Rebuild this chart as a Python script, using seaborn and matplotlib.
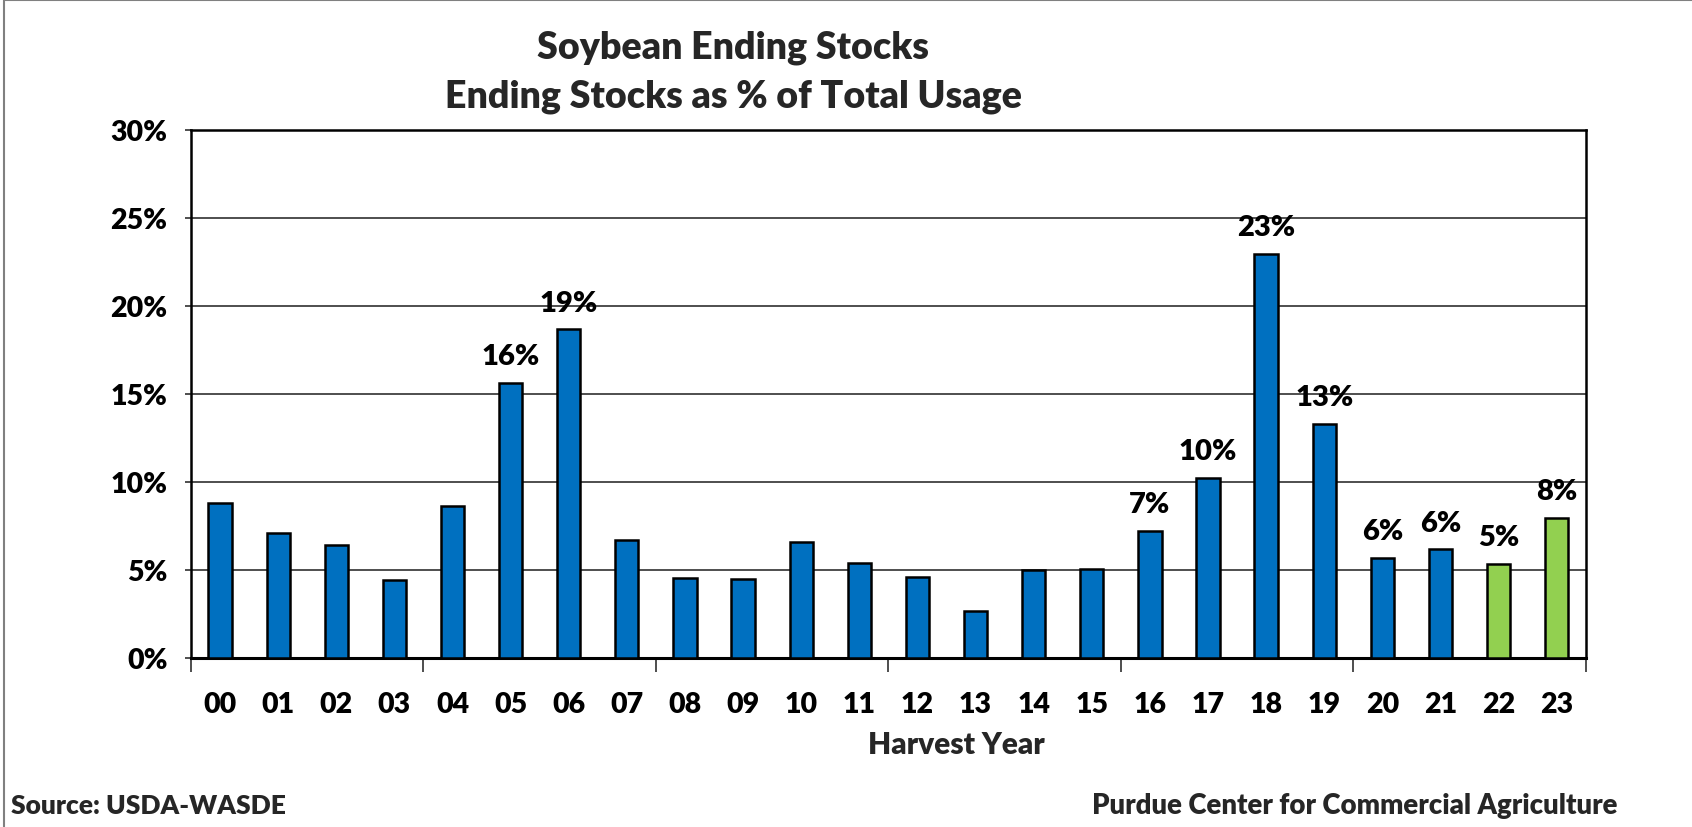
import matplotlib
matplotlib.use("Agg")
import matplotlib.pyplot as plt
from matplotlib.patches import Rectangle
from matplotlib.ticker import FixedLocator, FuncFormatter, NullFormatter
import pandas as pd
import seaborn as sns

# Harvest years (two-digit) and ending stocks as a share of total usage, in percent
years = ["00", "01", "02", "03", "04", "05", "06", "07", "08", "09", "10", "11",
         "12", "13", "14", "15", "16", "17", "18", "19", "20", "21", "22", "23"]
stocks_pct = [8.80, 7.09, 6.41, 4.43, 8.59, 15.62, 18.64, 6.65, 4.54, 4.48, 6.55, 5.35,
              4.56, 2.66, 4.95, 5.03, 7.18, 10.19, 22.92, 13.27, 5.66, 6.14, 5.30, 7.95]
status = ["Estimate"] * 22 + ["Projection"] * 2
labelled_years = ["05", "06", "16", "17", "18", "19", "20", "21", "22", "23"]
y_ticks = [0, 5, 10, 15, 20, 25, 30]

palette = {"Estimate": "#0070C0", "Projection": "#92D050"}

df = pd.DataFrame({"year": years, "pct": stocks_pct, "status": status})

sns.set_theme(style="white")
plt.rcParams["font.family"] = ["Lato", "DejaVu Sans"]
plt.rcParams["font.weight"] = "bold"
W = "heavy"

fig = plt.figure(figsize=(16.92, 8.28), dpi=100)
ax = fig.add_axes([0.1129, 0.2047, 0.9372 - 0.1129, 0.8423 - 0.2047])

sns.barplot(data=df, x="year", y="pct", hue="status", palette=palette,
            saturation=1, dodge=False, width=0.4, edgecolor="black", linewidth=1.8,
            legend=False, ax=ax, zorder=3)

ax.set_xlim(-0.5, len(years) - 0.5)
ax.set_ylim(0, 30)

# horizontal gridlines
ax.yaxis.set_major_locator(FixedLocator(y_ticks))
ax.yaxis.set_major_formatter(FuncFormatter(lambda v, p: f"{v:.0f}%"))
ax.grid(axis="y", color="#303030", linewidth=1.2, zorder=0)
ax.grid(axis="x", visible=False)
ax.set_axisbelow(True)

for side in ["left", "right", "top", "bottom"]:
    ax.spines[side].set_visible(True)
    ax.spines[side].set_color("black")
    ax.spines[side].set_linewidth(1.8)
ax.spines["bottom"].set_linewidth(2.2)

ax.tick_params(axis="y", which="major", direction="out", length=4, width=1.2,
               color="#303030", left=True, pad=13, labelsize=20.5)
ax.tick_params(axis="x", which="major", length=0, pad=24, labelsize=20.5)

# category-boundary tick marks every four years
ax.xaxis.set_minor_locator(FixedLocator([i - 0.5 for i in range(0, len(years) + 1, 4)]))
ax.xaxis.set_minor_formatter(NullFormatter())
ax.tick_params(axis="x", which="minor", direction="out", length=10, width=1.2,
               color="#303030", bottom=True)

for lbl in ax.get_xticklabels() + ax.get_yticklabels():
    lbl.set_fontweight(W)
    lbl.set_color("black")

ax.set_xlabel("")
ax.set_ylabel("")

# value labels above selected bars
for i, (yr, v) in enumerate(zip(years, stocks_pct)):
    if yr in labelled_years:
        ax.annotate(f"{v:.0f}%", xy=(i, v), xytext=(0, 10), textcoords="offset points",
                    ha="center", va="bottom", fontsize=21, fontweight=W,
                    color="black", zorder=5)

fig.text(733 / 1692, 1 - 48 / 828, "Soybean Ending Stocks", ha="center", va="center",
         fontsize=27, fontweight=W)
fig.text(733 / 1692, 1 - 97 / 828, "Ending Stocks as % of Total Usage", ha="center",
         va="center", fontsize=27, fontweight=W)
fig.text(956 / 1692, 1 - 745 / 828, "Harvest Year", ha="center", va="center",
         fontsize=21.5, fontweight=W)
fig.text(11 / 1692, 1 - 806 / 828, "Source: USDA-WASDE", ha="left", va="center",
         fontsize=19, fontweight=W)
fig.text(1617 / 1692, 1 - 806 / 828, "Purdue Center for Commercial Agriculture",
         ha="right", va="center", fontsize=19.8, fontweight=W)

# outer frame along the left and top edges
fig.patches.append(Rectangle((4 / 1692, -0.05), 1.2, 1.05 - 1 / 828,
                             transform=fig.transFigure, fill=False,
                             edgecolor="#808080", linewidth=1.5))

fig.savefig("out.png", dpi=100, facecolor="white")
